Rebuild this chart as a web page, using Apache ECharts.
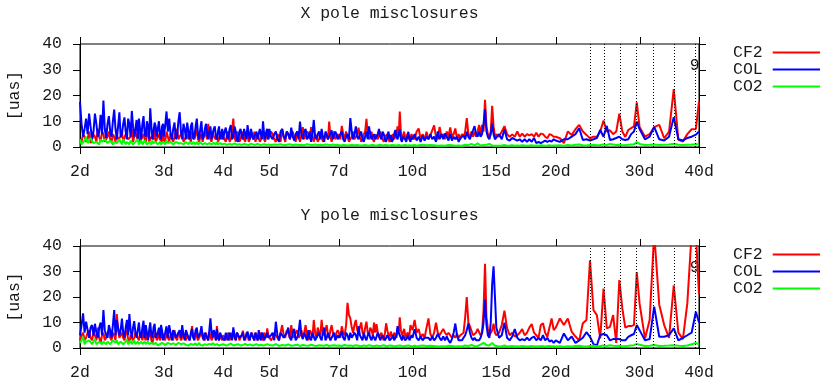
<!DOCTYPE html>
<html><head><meta charset="utf-8">
<script src="https://cdn.jsdelivr.net/npm/echarts@6/dist/echarts.min.js"></script>
<style>html,body{margin:0;padding:0;background:#fff}#c{width:820px;height:381px}</style>
</head><body><div id="c"></div>
<script>
// Periods (days) at which the misclosure spectra are sampled
const periods = [
2.000,2.015,2.030,2.045,2.060,2.075,2.090,2.105,2.120,2.135,2.150,2.165,2.180,2.195,2.210,2.225,2.240,2.255,2.270,2.285,2.300,2.315,2.330,2.345,2.360,2.375,2.390,2.405,2.420,2.435,2.450,2.465,2.480,2.495,2.510,2.525,2.540,2.555,2.570,2.585,2.600,2.615,2.630,2.645,2.660,2.675,2.690,2.705,2.720,2.735,2.750,2.765,2.780,2.795,2.810,2.825,2.840,2.855,2.870,2.885,2.900,2.915,2.930,2.945,2.960,2.975,2.990,
3.00,3.02,3.04,3.06,3.08,3.10,3.12,3.14,3.16,3.18,3.20,3.22,3.24,3.26,3.28,3.30,3.32,3.34,3.36,3.38,3.40,3.42,3.44,3.46,3.48,3.50,3.52,3.54,3.56,3.58,3.60,3.62,3.64,3.66,3.68,3.70,3.72,3.74,3.76,3.78,3.80,3.82,3.84,3.86,3.88,3.90,3.92,3.94,3.96,3.98,
4.000,4.025,4.050,4.075,4.100,4.125,4.150,4.175,4.200,4.225,4.250,4.275,4.300,4.325,4.350,4.375,4.400,4.425,4.450,4.475,4.500,4.525,4.550,4.575,4.600,4.625,4.650,4.675,4.700,4.725,4.750,4.775,4.800,4.825,4.850,4.875,4.900,4.925,4.950,4.975,
5.00,5.04,5.08,5.12,5.16,5.20,5.24,5.28,5.32,5.36,5.40,5.44,5.48,5.52,5.56,5.60,5.64,5.68,5.72,5.76,5.80,5.84,5.88,5.92,5.96,6.00,6.04,6.08,6.12,6.16,6.20,6.24,6.28,6.32,6.36,6.40,6.44,6.48,6.52,6.56,6.60,6.64,6.68,6.72,6.76,6.80,6.84,6.88,6.92,6.96,
7.00,7.05,7.10,7.15,7.20,7.25,7.30,7.35,7.40,7.45,7.50,7.55,7.60,7.65,7.70,7.75,7.80,7.85,7.90,7.95,8.00,8.05,8.10,8.15,8.20,8.25,8.30,8.35,8.40,8.45,8.50,8.55,8.60,8.65,8.70,8.75,8.80,8.85,8.90,8.95,9.00,9.05,9.10,9.15,9.20,9.25,9.30,9.35,9.40,9.45,9.50,9.55,9.60,9.65,9.70,9.75,9.80,9.85,9.90,9.95,
10.0,10.1,10.2,10.3,10.4,10.5,10.6,10.7,10.8,10.9,11.0,11.1,11.2,11.3,11.4,11.5,11.6,11.7,11.8,11.9,12.0,12.1,12.2,12.3,12.4,12.5,12.6,12.7,12.8,12.9,
13.0,13.1,13.2,13.3,13.4,13.5,13.6,13.7,13.8,13.9,14.0,14.1,14.2,14.3,14.4,14.5,14.6,14.7,14.8,14.9,
15.0,15.2,15.4,15.6,15.8,16.0,16.2,16.4,16.6,16.8,17.0,17.2,17.4,17.6,17.8,18.0,18.2,18.4,18.6,18.8,19.0,19.2,19.4,19.6,19.8,
20.0,20.4,20.8,21.2,21.6,22.0,22.4,22.8,23.2,23.6,24.0,24.4,24.8,25.2,25.6,26.0,26.4,26.8,27.2,27.6,28.0,28.4,28.8,29.2,29.6,
30,30.8,31.5,32.2,33.0,33.8,34.6,35.4,36.2,37.0,37.8,38.6,39.4,40
];
const tickValues = [2,3,4,5,7,10,15,20,30,40];
const tickLabels = ['2d','3d','4d','5d','7d','10d','15d','20d','30d','40d'];
const dotLines = [23.6,25.3,27.3,29.5,32.1,35.4,39.3];
const seriesNames = ['CF2','COL','CO2'];
const panelTitles = ['X pole misclosures','Y pole misclosures'];

// X pole
const xCF2 = [
3,2,5,4,2,3,6,1.5,3,5,4,2,7,4,2,6,5,2,3,4,6,3,2,5,4,2,5,3,3,4,6,2,2,5,5,3,3,4,7,2,2,6,4,3,6,2,3,4,5,3,2,5,6,2,3,4,4,3,7,2,2,4,5,3,3,2,6,
3,2,6,4,2,5,5,2,4,6,7,3,3,5,6,2,2,4,5,3,4,2,6,4,3,5,7,3,2,4,5,2,4,6,6,3,9,5,3,2,6,4,4,3,5,2,3,5,6,3,
4,3,2,5,6,2,3,6,11,4,2,6,5,2,3,5,6,3,2,6,5,2,3,5,4,3,6,2,2,5,5,2,3,6,6,3,2,5,4,3,
3,6,5,3,2,5,4,2,7,4,2,6,5,3,3,6,4,2,6,4,2,5,7.7,3,3,6,5,3,7.7,4,2,5,4,2,3,6,6,2,3,5,5,3,9.9,4,2,5,6,3,3,5,
5,3,8.2,5,3,6,4,2,2,4,6,3,3,5,7.5,4,2,3,5,6,10.9,5,3,4,6,3,2,5,5,3,3,6,6,3,2,4,4,5,3,2,2,4,5,3,3,5,8,4,13.8,6,3,4,6,3,3,5,5,3,3,5,
4,3,6,7.2,3,5,3,5.9,3,4.5,4.7,8.4,4,3,7.8,4,5,3,6,4,7.6,4,5,7.2,3,5,3,5,4,6,
11.2,5,4,6,4,6,4,6,8.6,5,8.6,6,18.3,8,5,4,6,16,8,4,
5,4,6,8.1,5,4,4.9,4,6,4,5.2,4,5,4.5,5,4,5.5,4,5.2,5,4,3.4,5,4.7,4,
4,3.4,1.5,6,4.7,6.9,8.6,6,4.7,3.4,4,4,6,10.3,6,6.5,5,6,12.9,6,3.9,6.6,7.3,8,17.3,
7.8,4,5,7.7,8.6,3.4,6,22.5,2.8,2.1,5,6.9,7,17.7
];
const xCOL = [
17.5,9,4,7,11,5,13,8,3,6,13,9,4,6,12.5,5,18,7,3.5,9,12,6,4,10,14.5,7,3,8,13.5,4,5,9,11.5,6,3,11,9,4,14,8,4,7,10.5,3,11,7,3,9,12,5,4,10,8,3,15,8,3,6,9.5,8,4,7,10,5,3,8,9,
4,8,13.8,6,11,5,3,7,9.5,3,4,10,13.5,6,3,9,7,3,9.5,6,3,8,9.5,3,4,8,11,5,3,7,10,3,4,7,9,5,3,6,8,3,5,7,8,4,3,6,8,3,4,7,
3,6,7.5,4,3,7,8.5,3,4,8,6,3,2,6,7,4,3,7,5,3,8.5,5,3,7,7,3,2.5,5,6,3,3,7,5,3,10,5,3,6,7,3,
7,4,3,5,6,3,2,6,7,4,3,6,5,3,7.5,4,2.5,5,6,3,9.9,5,3,6,7,3,4,6,2,5,10.5,4,3,5,6,3,7,4,2,6,5,3,3,5,6.5,3,2.5,6,5,3,
3,5,6,3,2,4,5,3,11.2,6,3,5,8,4,3,5,6,3,2,4,6,3,8,5,3,4,5,3,2.5,5,7,4,3,6,5,3,2,4,6,3,4.7,2,3,5,6.6,4,3,5,6.9,3,2,4,4,3,2,4,5.9,3,2,4,
3,5,2.5,4,2,4.5,2.5,4,3,5,3,4,2,6,3,5,3,5.2,4,2.5,5,2.5,4,3,4,2,3.4,3,4.5,3,
5.9,4,3,5,6.5,8.1,5,4,6,4,5,9,14.7,6,3.9,3,5,9.2,5,3,
3,5,3,6.9,3,2.5,3.5,3,2.5,3,2,3,2,3,2,3.5,1.5,2,1.5,2,2.5,2,2.5,2.1,3,
2.5,2,3,3,4,5,7.3,2.7,3,2.5,3,3.5,6.6,4,8.2,2.7,3,3.5,4,3,2.7,3,5,6,9.9,
7,3,4,7.8,3,2.5,4,11.6,3,2.5,3.5,4,4.8,6
];
const xCO2 = [
3,1,1.5,2.5,4,1.5,2,3.5,3,1.5,1,2,2.5,1,3,2,1.5,3,2.5,1.5,1,2.5,3,1,2,2.5,1.5,1,3,2,1,3,2.5,1,2,1.5,1,2.5,3,1,1.5,2,2,3,1,1.5,2.5,1,1.5,2.5,2,1,1,2,2,1,2.5,1.5,1,2,2,1,1.5,2,1,1,2,
1.5,1,2.5,1.5,1,2,2,1,1.5,2,2.5,1.5,1,1.5,2,1,1,2,1.5,1,2,1.5,1,2,1.5,1,2,1,1,1.8,1.5,1,1,1.5,2,1,1,1.5,1.5,1,1,1.6,1.2,1,2,1,1,1.5,1.5,1,
1,1.3,1.5,0.8,0.8,1.2,1.2,0.9,1,1.4,1.5,0.9,0.8,1.1,1.2,0.8,1,1.2,0.8,1,1.2,0.7,1,1.3,0.8,1,1.5,0.9,0.8,1.2,1,0.8,1.2,0.9,0.8,1.1,1,0.8,1.2,1,
1,0.8,0.7,1,1.2,0.9,0.8,1.1,1,0.7,1.3,0.9,0.7,1.1,1,0.7,0.8,1,1.1,0.8,0.7,0.9,1,0.7,0.9,1.1,0.7,0.9,1.2,0.8,0.8,1,1,0.8,0.7,0.9,1,0.7,0.9,1,0.7,0.9,1.1,0.7,0.8,1,1,0.8,0.7,0.9,
0.8,0.6,1,0.8,0.6,0.7,0.9,0.6,0.7,0.9,1,0.7,0.6,0.8,0.8,0.6,0.9,0.7,0.6,0.8,0.8,0.6,1,0.7,0.6,0.8,0.7,0.6,0.9,0.7,0.6,0.9,0.8,0.6,0.7,0.8,0.6,0.7,0.9,0.6,0.7,0.8,0.6,0.7,0.8,0.6,0.6,0.8,0.7,0.6,0.9,0.7,0.6,0.8,0.7,0.6,0.8,0.7,0.6,0.6,
0.6,0.8,0.5,0.7,0.6,0.9,0.5,0.7,0.6,0.8,0.5,0.7,0.6,0.5,0.8,0.6,0.7,0.5,0.6,0.8,0.5,0.7,0.6,0.5,0.7,0.6,0.8,0.5,0.6,0.9,
1.3,0.7,0.6,1.2,0.8,0.6,1.0,1.4,0.7,0.6,1.1,0.8,1.5,0.9,0.6,1.2,0.7,0.6,0.8,0.5,
0.7,0.5,0.6,0.8,0.5,0.6,0.7,0.5,0.6,0.5,0.7,0.6,0.5,0.6,0.7,0.5,0.6,0.5,0.7,0.6,0.5,0.6,0.7,0.5,0.6,
0.6,0.7,0.5,0.8,0.6,0.9,1.0,0.7,0.6,0.8,0.9,0.7,0.8,1.0,0.8,1.2,1.0,0.8,0.9,0.7,0.8,0.9,1.0,1.1,1.9,
1.2,0.8,0.9,1.0,0.8,0.9,1.0,1.3,0.9,0.8,0.9,1.0,1.1,1.2
];

// Y pole
const yCF2 = [
3,5,6,3,4,6,7,4,3,6,5,3,8,4,2,5,6,3,4,6,7,4,3,6,5,3,13.3,7,4,5,6,4,3,6,7,3,2,5,5,3,4,6,6,4,3,6,5,3,7,4,3,6,4,5,6,3,2,4,5,6,3,4,6,3,4,6,5,
4,3,6,4,3,5,5,3,7,4,3,6,5,3,4,6,6,3,5,4,3,5,8.6,4,4,6,6,3,3,5,7,4,4,3,6,4,3,6,5,3,4,5,6,3,8.6,4,3,5,5,3,
5,4,3,5,6,3,4,6,5,4,3,6,5,3,4,5,6.8,4,3,6,5,3,4,5,6,4,3,6,5,3,4,5,6,4,3,6,5,4,7.7,5,
5,3,4,6,6,4,3,6,9,5,4,7,6,4,9,5,4,6,7,4,5,7,4,6,9,5,3,7,6,4,11,6,4,8,6,5,11,6,5,7,9,5,4,7,9,6,5,4,6,7,
6,4,8.5,6,5,9,17.7,13,11.6,8,6,9,11,7,6,8,10,6,5,8,10.3,6,5,8,7,5,10,6,9.4,6,4,5,6,4,3,6,9.7,7,5,4,6.4,5,4,6,6,4,8,6,12,7,5,6,7.5,5,4,6,6,5,9,8,
7,11,6,7.5,4,5.5,4,8,11.6,5.5,4,6,9.9,6,5,5.5,7.5,6,5,6,6.5,4,5,4,5.5,4,5,4.5,6,12,
20,10,8.5,7.8,5,4.5,6,7.5,7.8,5,6,15,33,12,7.5,5,5,7,9.5,6,
5,6,9,14.6,7.8,5,6,4.5,5,6,7.4,5,6,8,9.4,6,5,4,9,9.7,6,4.4,8,11.6,7,
8,11.6,9,11.6,6.4,4.5,3,9.7,11,34.4,14.9,12.9,3.8,23.3,7.7,8.3,12.9,2,26.6,15.5,8,8.6,8.6,9,29.8,
17.5,3.7,11,45,17,9,4,24.6,6,3.5,17.5,45,45,21
];
const yCOL = [
5,9,13.6,6,10.3,7,4,8,9,5,9.5,6,4,8,10,5,14.9,7,5,4,9,7,4,9,14.9,5,11,8,5,7,11.5,6,4,8,11,5,13.3,7,4,8,10.5,6,4,7,10,5,4,8,10.7,4,9,6,3,7,10,5,4,8,9.5,4,3.5,6,8,4,9,7,3,
3,6,8.5,4,9,6,3,7,6,4,3.5,6,7,4,9,5,3,7,6.5,4,3,6,7.5,4,3,7,8,4,4,6,8.6,5,3,6,6,4,3,7,11.6,6,4,7,6,3,7.5,4,3,6,6,4,
4,3,6,4,3,6,5,3,8.1,5,3,6,6,4,3.5,5,6,3,4,5,6.5,4,3,6,5,4,3,6,5.5,3,7,4,3,6,5,3,3.5,5,6,4,
4,5,6,3,10.3,5,3,6,6,4,4,6,8,4,3,6,7.5,3,4,6,11,5,3.5,6,6,3,7,4,3,6,6,3,4,5,6,4,3,6,8,3,4,6,6,3,3,5,6,3,4,5,
4,5,6.5,4,3,6,5,3,6,4,3.5,6,5,3,8.6,5,4,3,6,4,3,5,6,4,3,5,5,3,3.5,6,5,3,3,5,4.5,3,3,5,4,3,3.1,4,5,3,3,5,8.6,6,5,4,3,5,4.5,3,3,4,5,3,3,5,
4,7.4,4,3,4.5,3,4,3.5,4,3,4.5,3,4,5.5,4,3,4.5,3,4.5,3,2,3.5,6,9.6,5,3,2.5,3,4,5,
7,9.6,6,4,3,4,3,2.5,3,4,6,10,19,9,5,4,10,25,32,20,
8,4,5,9.9,4,3,4.5,7.4,4,3,3.5,3,4,3,4,4.5,3,4,3,5,3,4,2.5,3,2,
3,2,5.7,3,4.5,2,3,4,6.2,4.4,1.5,1,5.1,5.5,5,3,3.5,3.5,3.5,3,3,4.4,5,5.5,9,
7,3,3.5,16.2,4.4,4.4,5,7.7,3,4,5,6,14.2,10
];
const yCO2 = [
2,3,4.4,1.5,2.5,2,3,2.5,1.5,2,3.5,1.5,2,2.5,3,1.5,2.5,3,1.5,2.5,3,1.5,2,3,2.5,2,3,1.5,1.5,2.5,3,1.5,2,2.5,3.5,1.5,2,3,1.5,2,3,1.5,2,2.5,1.5,2,2.5,1.5,2,2.5,1.5,2,2.5,1.5,1.5,2,2,1.5,1,2,2.5,1,1.5,1.5,2,2,1.5,
2,1.2,1.5,2,2.5,1.5,1.2,1.8,2,1.2,1.5,2,2.5,1.5,1,1.8,2,1.2,1.5,1,1.2,1.6,2,1.2,1.5,1.8,1,1.5,2,1.2,1.5,1,1.2,1.5,1.8,1.2,1,1.6,1.5,1.2,2,1.5,1.2,1.8,1.5,1.2,1,1.5,1.3,1.1,
1.5,1.2,1,1.4,1.2,1.5,1.8,1.2,1,1.6,1.3,1.1,1.5,1.2,1,1.4,1.2,1.5,1.6,1.1,1,1.3,1.4,1.1,1,1.4,1.2,1.3,1.5,1.1,1,1.4,1.3,1.1,1,1.3,1.2,1,1.5,1.2,
1.2,0.9,1,1.3,1.5,1.1,0.8,1,1.2,0.9,1,1.2,1.4,1,0.9,1.2,1.1,0.9,1.3,1,0.8,1.1,1.2,0.9,1,1.2,0.9,1.1,1.3,0.8,1,1.2,0.8,1,1.1,0.9,1,1.2,0.9,1,1.2,1,0.8,1.1,1,0.9,1.1,0.8,0.9,1.1,
1,0.8,0.8,1,1.2,0.9,0.9,1.1,1,0.7,0.8,0.9,1.1,0.8,0.9,1,0.7,0.9,1,0.7,0.8,1,1.1,0.8,0.9,1,0.7,0.9,1,0.7,0.8,1,0.9,0.8,1.1,0.9,0.7,1,0.9,0.8,1,0.7,0.8,0.9,0.7,1,0.9,0.8,1,0.7,0.8,0.9,0.7,1,0.9,0.8,1.0,0.7,0.8,0.9,
0.7,0.9,0.6,0.8,0.7,1.0,0.6,0.8,0.7,0.9,0.6,0.8,0.7,0.6,0.9,0.7,0.8,0.6,0.7,0.9,0.6,0.8,0.7,0.6,0.8,0.7,0.9,0.6,0.7,1.0,
1.4,0.8,0.7,1.2,0.9,0.7,1.1,0.8,1.0,1.3,1.6,2.0,2.6,1.2,0.8,1.0,1.5,2.0,1.4,0.9,
0.8,0.6,0.7,1.0,0.6,0.7,0.8,0.6,0.7,0.6,0.8,0.7,0.6,0.7,0.8,0.6,0.7,0.6,0.8,0.7,0.6,0.7,0.8,0.6,0.7,
0.6,0.7,0.5,0.7,0.6,0.8,0.9,0.7,0.6,0.8,0.9,0.7,0.8,1.0,0.8,1.1,0.9,0.8,0.9,0.7,0.8,0.9,1.0,1.1,1.6,
1.3,0.8,0.9,1.2,0.8,0.9,1.0,1.1,0.9,0.8,1.0,1.5,2.0,1.3
];

const FONT = '"Liberation Mono", "Courier New", monospace';
const FS = 16.5;
const TXT = '#1a1a1a';
const colors = ['#ff0000', '#0000ff', '#00ff00'];
const panels = [[xCF2, xCOL, xCO2], [yCF2, yCOL, yCO2]];

const chart = echarts.init(document.getElementById('c'), null, {renderer: 'canvas'});
function pairs(v) { return periods.map((p, i) => [p, v[i]]); }

const grids = [
  {left: 80, right: 121, top: 44, height: 103, show: true, borderColor: '#000', borderWidth: 1},
  {left: 80, right: 121, top: 246, height: 102, show: true, borderColor: '#000', borderWidth: 1}
];
const xAxes = [0, 1].map(k => ({
  type: 'log', logBase: 10, gridIndex: k, min: 2, max: 40,
  axisLine: {show: true, lineStyle: {color: '#000', width: 1}},
  axisTick: {show: false}, axisLabel: {show: false},
  splitLine: {show: false}, minorTick: {show: false}, minorSplitLine: {show: false}
}));
const yAxes = [];
[0, 1].forEach(k => {
  yAxes.push({
    type: 'value', gridIndex: k, min: 0, max: 40, interval: 10, position: 'left',
    axisLine: {show: true, lineStyle: {color: '#000', width: 1}},
    axisTick: {show: true, inside: false, length: 7, lineStyle: {color: '#000'}},
    axisLabel: {fontFamily: FONT, fontSize: FS, color: TXT, margin: 18},
    splitLine: {show: false}
  });
  yAxes.push({
    type: 'value', gridIndex: k, min: 0, max: 40, interval: 10, position: 'right',
    axisLine: {show: true, lineStyle: {color: '#000', width: 1}},
    axisTick: {show: true, inside: false, length: 7, lineStyle: {color: '#000'}},
    axisLabel: {show: false}, splitLine: {show: false}
  });
});

const series = [];
[0, 1].forEach(k => {
  panels[k].forEach((vals, s) => {
    const ser = {
      type: 'line', name: seriesNames[s], xAxisIndex: k, yAxisIndex: 2 * k,
      data: pairs(vals), showSymbol: false, symbol: 'none', clip: true,
      lineStyle: {color: colors[s], width: 2}, itemStyle: {color: colors[s]},
      emphasis: {disabled: true}, animation: false
    };
    if (s === 0) {
      ser.markLine = {
        silent: true, symbol: ['none', 'none'], label: {show: false}, animation: false,
        lineStyle: {color: '#000', type: [1, 2], width: 1},
        data: dotLines.map(v => ({xAxis: v}))
      };
    }
    series.push(ser);
  });
});

const legends = [44, 246].map(t => ({
  data: seriesNames, orient: 'vertical', left: 733, top: t, align: 'right',
  icon: 'rect', itemWidth: 50, itemHeight: 2, itemGap: 0, padding: 0,
  selectedMode: false,
  textStyle: {fontFamily: FONT, fontSize: FS, color: TXT, lineHeight: 17, padding: [0, 5, 0, 0]}
}));

chart.setOption({
  animation: false,
  backgroundColor: '#fff',
  grid: grids, xAxis: xAxes, yAxis: yAxes, series: series, legend: legends
});

// ticks, tick labels, titles and annotations placed through the axes' own scales
const g = [];
[0, 1].forEach(k => {
  const yb = chart.convertToPixel({yAxisIndex: 2 * k}, 0);
  const yt = chart.convertToPixel({yAxisIndex: 2 * k}, 40);
  const xl = chart.convertToPixel({xAxisIndex: k}, 2);
  const xr = chart.convertToPixel({xAxisIndex: k}, 40);
  tickValues.forEach((v, j) => {
    const x = chart.convertToPixel({xAxisIndex: k}, v);
    const xs = Math.round(x) + 0.5;
    g.push({type: 'line', silent: true, shape: {x1: xs, y1: yb, x2: xs, y2: yb + 7}, style: {stroke: '#000', lineWidth: 1}});
    g.push({type: 'line', silent: true, shape: {x1: xs, y1: yt - 7, x2: xs, y2: yt}, style: {stroke: '#000', lineWidth: 1}});
    g.push({type: 'text', silent: true, x: x, y: yb + 25,
      style: {text: tickLabels[j], font: FS + 'px ' + FONT, fill: TXT, align: 'center', verticalAlign: 'middle'}});
  });
  g.push({type: 'text', silent: true, x: (xl + xr) / 2, y: yt - 30,
    style: {text: panelTitles[k], font: FS + 'px ' + FONT, fill: TXT, align: 'center', verticalAlign: 'middle'}});
  g.push({type: 'text', silent: true, x: 15, y: (yt + yb) / 2, rotation: Math.PI / 2,
    style: {text: '[uas]', font: FS + 'px ' + FONT, fill: TXT, align: 'center', verticalAlign: 'middle'}});
  const p9 = chart.convertToPixel({gridIndex: k}, [39.2, 31.5]);
  g.push({type: 'text', silent: true, x: p9[0], y: p9[1],
    style: {text: '9', font: FS + 'px ' + FONT, fill: TXT, align: 'center', verticalAlign: 'middle'}});
});
chart.setOption({graphic: {elements: g}});
</script>
</body></html>
